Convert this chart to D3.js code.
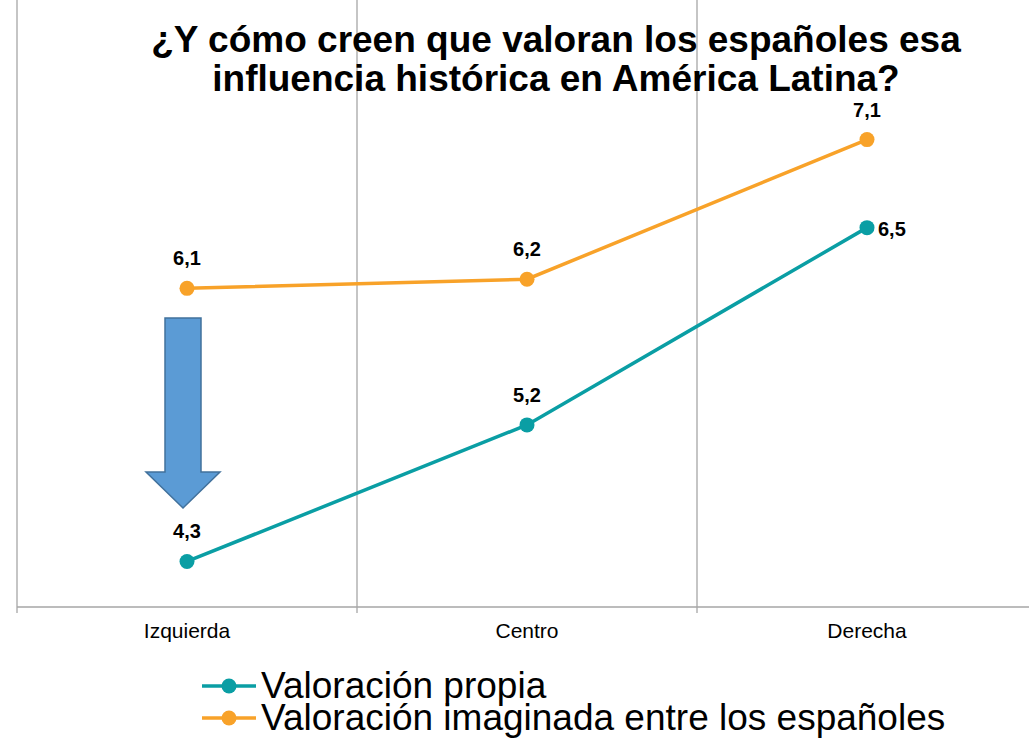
<!DOCTYPE html>
<html>
<head>
<meta charset="utf-8">
<script src="https://cdn.jsdelivr.net/npm/d3@7"></script>
<style>
    body { margin: 0; background: #fff; }
    svg text { font-family: "Liberation Sans", Arial, sans-serif; }
</style>
</head>
<body>
<div id="chart"></div>
<script>
// categorias del eje x
var categories = ['Izquierda', 'Centro', 'Derecha'];
// valores de cada serie
var seriesNames = ['Valoración propia', 'Valoración imaginada entre los españoles'];
var propiaValues = [4.3, 5.2, 6.5];
var imaginadaValues = [6.1, 6.16, 7.08];
var seriesColors = ['#0a9ea4', '#f8a229'];
var titleLines = ['¿Y cómo creen que valoran los españoles esa', 'influencia histórica en América Latina?'];

var width = 1029,
    height = 741;

var svg = d3.select('#chart').append('svg')
    .attr('width', width)
    .attr('height', height);

var x = d3.scaleBand()
    .domain(categories)
    .range([17, 1037]);

var y = d3.scaleLinear()
    .domain([4, 8])
    .range([607, 0]);

// lineas de cuadricula verticales y ejes
var grid = svg.append('g').attr('class', 'grid');
grid.selectAll('line.v')
    .data(categories)
    .enter()
    .append('line')
    .attr('x1', function(d) { return x(d); })
    .attr('x2', function(d) { return x(d); })
    .attr('y1', 0)
    .attr('y2', 613)
    .attr('stroke', '#a6a6a6')
    .attr('stroke-width', 1.3);

grid.append('line')
    .attr('x1', 17)
    .attr('x2', width)
    .attr('y1', y(4))
    .attr('y2', y(4))
    .attr('stroke', '#a6a6a6')
    .attr('stroke-width', 1.3);

// etiquetas del eje x
svg.append('g').selectAll('text')
    .data(categories)
    .enter()
    .append('text')
    .attr('x', function(d) { return x(d) + x.bandwidth() / 2; })
    .attr('y', 638)
    .attr('text-anchor', 'middle')
    .style('font-size', '21px')
    .style('fill', '#000')
    .text(function(d) { return d; });

// flecha azul
var ax = x('Izquierda') + x.bandwidth() / 2 - 4;
var arrowPts = [
    [ax - 18, 318], [ax + 18, 318], [ax + 18, 472], [ax + 37, 472],
    [ax, 508], [ax - 37, 472], [ax - 18, 472]
];
svg.append('polygon')
    .attr('points', arrowPts.map(function(p) { return p.join(','); }).join(' '))
    .attr('fill', '#5b9bd5')
    .attr('stroke', '#41719c')
    .attr('stroke-width', 1.5);

var fmt = function(v) { return d3.format('.1f')(v).replace('.', ','); };

var line = d3.line()
    .x(function(d, i) { return x(categories[i]) + x.bandwidth() / 2; })
    .y(function(d) { return y(d); });

function addSeries(values, color, labelPos) {
    var g = svg.append('g');
    g.append('path')
        .datum(values)
        .attr('d', line)
        .attr('fill', 'none')
        .attr('stroke', color)
        .attr('stroke-width', 3.5);
    g.selectAll('circle')
        .data(values)
        .enter()
        .append('circle')
        .attr('cx', function(d, i) { return x(categories[i]) + x.bandwidth() / 2; })
        .attr('cy', function(d) { return y(d); })
        .attr('r', 7.5)
        .attr('fill', color);
    g.selectAll('text')
        .data(values)
        .enter()
        .append('text')
        .attr('x', function(d, i) {
            var cx = x(categories[i]) + x.bandwidth() / 2;
            return labelPos[i] == 'right' ? cx + 11 : cx;
        })
        .attr('y', function(d, i) {
            return labelPos[i] == 'right' ? y(d) + 8 : y(d) - 23;
        })
        .attr('text-anchor', function(d, i) { return labelPos[i] == 'right' ? 'start' : 'middle'; })
        .style('font-size', '20px')
        .style('font-weight', 'bold')
        .style('fill', '#000')
        .text(function(d) { return fmt(d); });
}

addSeries(propiaValues, seriesColors[0], ['top', 'top', 'right']);
addSeries(imaginadaValues, seriesColors[1], ['top', 'top', 'top']);

// titulo
svg.append('g').selectAll('text')
    .data(titleLines)
    .enter()
    .append('text')
    .attr('x', 556)
    .attr('y', function(d, i) { return 52 + i * 39; })
    .attr('text-anchor', 'middle')
    .style('font-size', '37px')
    .style('font-weight', 'bold')
    .style('fill', '#000')
    .text(function(d) { return d; });

// leyenda
var legend = svg.append('g').selectAll('g')
    .data(seriesNames)
    .enter()
    .append('g')
    .attr('transform', function(d, i) { return 'translate(0,' + (686 + i * 32) + ')'; });
legend.append('line')
    .attr('x1', 202)
    .attr('x2', 256)
    .attr('stroke', function(d, i) { return seriesColors[i]; })
    .attr('stroke-width', 3.5);
legend.append('circle')
    .attr('cx', 229)
    .attr('r', 7.5)
    .attr('fill', function(d, i) { return seriesColors[i]; });
legend.append('text')
    .attr('x', 261)
    .attr('y', 12)
    .style('font-size', '37px')
    .style('fill', '#000')
    .text(function(d) { return d; });
</script>
</body>
</html>
